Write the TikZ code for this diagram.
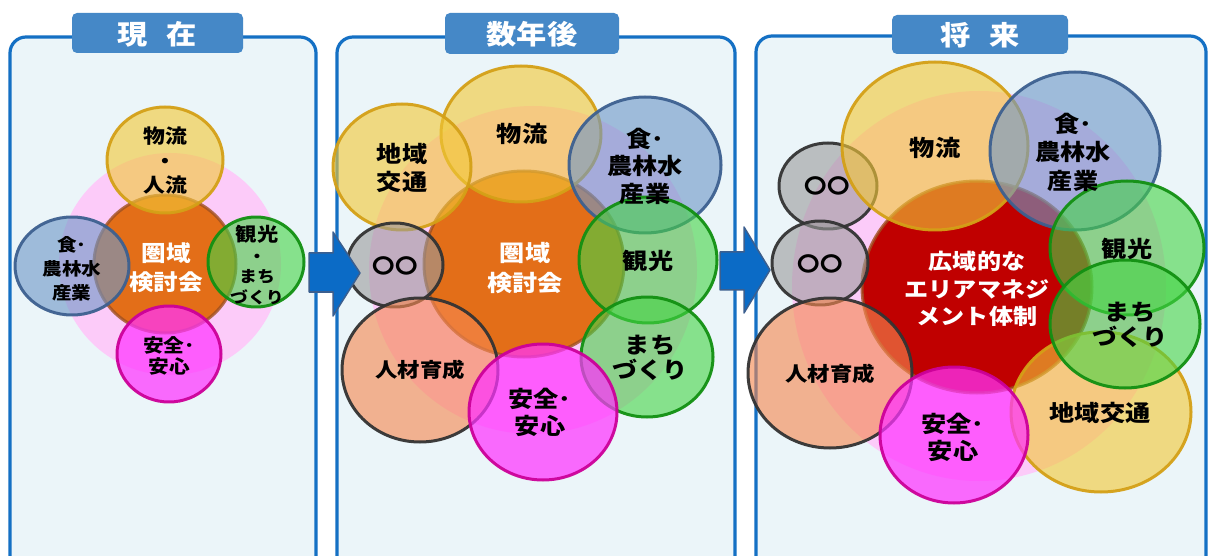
\documentclass[tikz,border=0pt]{standalone}
\usepackage{fontspec}
\newfontfamily\jp{Noto Sans CJK JP}[FakeStretch=1.12]
\definecolor{panelblue}{HTML}{1470C4}
\definecolor{panelfill}{HTML}{EBF5F9}
\definecolor{headblue}{HTML}{4588C7}
\definecolor{arrowfill}{HTML}{0B6BC6}
\definecolor{arrowline}{HTML}{3B5F8F}
\definecolor{cyel}{HTML}{F2C838}
\definecolor{byel}{HTML}{D4A017}
\definecolor{cblue}{HTML}{7098C8}
\definecolor{bblue}{HTML}{3D6090}
\definecolor{cgreen}{HTML}{44D444}
\definecolor{bgreen}{HTML}{129012}
\definecolor{cmag}{HTML}{FF33FF}
\definecolor{bmag}{HTML}{CC0099}
\definecolor{csal}{HTML}{F58850}
\definecolor{cgray}{HTML}{9A9A9A}
\definecolor{bdark}{HTML}{333333}
\definecolor{corange}{HTML}{E26A0C}
\definecolor{bbrown}{HTML}{A05020}
\definecolor{cred}{HTML}{C00000}
\definecolor{cpink}{HTML}{FFC4FA}
\begin{document}
\begin{tikzpicture}[x=1pt,y=-1pt,line join=round,
  panel/.style={draw=panelblue,line width=3.2pt,fill=panelfill,rounded corners=16pt},
  header/.style={fill=headblue,rounded corners=5pt},
  headtext/.style={text=white,font=\jp\bfseries\fontsize{27}{30}\selectfont},
  arrowst/.style={fill=arrowfill,draw=arrowline,line width=1.5pt},
  pinkbg/.style={fill=cpink,fill opacity=0.85},
  orangec/.style={fill=corange,fill opacity=0.95,draw=bbrown,draw opacity=0.8,line width=3pt},
  redc/.style={fill=cred,draw=bbrown,draw opacity=0.8,line width=3pt},
  yelc/.style={fill=cyel,fill opacity=0.62,draw=byel,draw opacity=0.95,line width=3pt},
  bluec/.style={fill=cblue,fill opacity=0.62,draw=bblue,draw opacity=0.95,line width=3pt},
  greenc/.style={fill=cgreen,fill opacity=0.6,draw=bgreen,draw opacity=0.95,line width=3pt},
  magc/.style={fill=cmag,fill opacity=0.72,draw=bmag,draw opacity=0.95,line width=3pt},
  salc/.style={fill=csal,fill opacity=0.62,draw=bdark,draw opacity=0.95,line width=3pt},
  grayc/.style={fill=cgray,fill opacity=0.6,draw=bdark,draw opacity=0.95,line width=3pt},
  lbl/.style={align=center,text=black,inner sep=0pt},
  wlbl/.style={align=center,text=white,inner sep=0pt}
]
\useasboundingbox (0,0) rectangle (1208,556);
\fill[white] (0,0) rectangle (1208,556);
\clip (0,0) rectangle (1208,556);

% panels
\draw[panel] (10,37) rectangle (316,620);
\draw[panel] (337,37) rectangle (735,620);
\draw[panel] (756,36) rectangle (1206,620);

% headers
\fill[header] (72,13) rectangle (243,53);
\fill[header] (445,13) rectangle (619,54);
\fill[header] (892,15) rectangle (1068,54);
\node[headtext] (h1) at (157,34) {現\hspace{0.7em}在};
\node[headtext] (h2) at (532,34) {数年後};
\node[headtext] (h3) at (980,35) {将\hspace{0.7em}来};

% ---------- panel 1 ----------
\fill[pinkbg] (170,264) circle [radius=111pt];
\draw[orangec] (165,264) ellipse [x radius=71pt, y radius=69pt];
\draw[yelc] (165,160) ellipse [x radius=58pt, y radius=53pt];
\draw[bluec] (72,266) ellipse [x radius=57pt, y radius=49pt];
\draw[greenc] (256,262) ellipse [x radius=48pt, y radius=45pt];
\draw[magc] (169,354) ellipse [x radius=52pt, y radius=48pt];

% ---------- panel 2 ----------
\fill[pinkbg] (533,270) circle [radius=164pt];
\draw[orangec] (524,264) ellipse [x radius=100pt, y radius=93pt];
\draw[yelc] (521,134) ellipse [x radius=80pt, y radius=68pt];
\draw[yelc] (402,167) ellipse [x radius=69pt, y radius=63pt];
\draw[grayc] (395,265) ellipse [x radius=48pt, y radius=42pt];
\draw[salc] (420,370) ellipse [x radius=78pt, y radius=72pt];
\draw[bluec] (645,165) ellipse [x radius=76pt, y radius=68pt];
\draw[greenc] (648,260) ellipse [x radius=69pt, y radius=63pt];
\draw[greenc] (647,357) ellipse [x radius=66pt, y radius=60pt];
\draw[magc] (543,412) ellipse [x radius=74pt, y radius=68pt];

% ---------- panel 3 ----------
\fill[pinkbg] (979,286) ellipse [x radius=187pt, y radius=195pt];
\draw[redc] (977,287) ellipse [x radius=115pt, y radius=106pt];
\draw[grayc] (828,186) ellipse [x radius=49pt, y radius=43pt];
\draw[grayc] (820,263) ellipse [x radius=48pt, y radius=42pt];
\draw[salc] (830,373) ellipse [x radius=82pt, y radius=75pt];
\draw[yelc] (935,146) ellipse [x radius=93pt, y radius=84pt];
\draw[bluec] (1075,151) ellipse [x radius=85pt, y radius=79pt];
\draw[yelc] (1101,412) ellipse [x radius=90pt, y radius=80pt];
\draw[greenc] (1127,248) ellipse [x radius=77pt, y radius=67pt];
\draw[greenc] (1125,324) ellipse [x radius=75pt, y radius=64pt];
\draw[magc] (954,435) ellipse [x radius=74pt, y radius=68pt];

% arrows
\draw[arrowst] (309,253) -- (333,253) -- (333,232) -- (360,273) -- (333,316) -- (333,292) -- (309,292) -- cycle;
\draw[arrowst] (720,252) -- (744,252) -- (744,227) -- (770,270) -- (744,313) -- (744,290) -- (720,290) -- cycle;

% ---------- labels panel 1 ----------
\node[lbl,font=\jp\bfseries\fontsize{19.5}{24.5}\selectfont] (a1) at (165,161) {物流\\・\\人流};
\node[lbl,font=\jp\bfseries\fontsize{17.5}{24}\selectfont] (a2) at (72,269) {食･\\農林水\\産業};
\node[wlbl,font=\jp\bfseries\fontsize{22}{29}\selectfont] (a3) at (166,268) {圏域\\検討会};
\node[lbl,font=\jp\bfseries\fontsize{16}{20.5}\selectfont] (a4) at (257,265) {{\fontsize{19}{20.5}\selectfont 観光}\\・\\まち\\づくり};
\node[lbl,font=\jp\bfseries\fontsize{18.5}{21}\selectfont] (a5) at (169,356) {安全･\\安心};

% ---------- labels panel 2 ----------
\node[lbl,font=\jp\bfseries\fontsize{22.5}{28}\selectfont] (b1) at (522,134) {物流};
\node[lbl,font=\jp\bfseries\fontsize{22.5}{28}\selectfont] (b2) at (402,168) {地域\\交通};
\node[lbl,font=\jp\bfseries\fontsize{22.5}{27.5}\selectfont] (b3) at (645,166) {食･\\農林水\\産業};
\node[lbl,font=\jp\bfseries\fontsize{22.5}{28}\selectfont] (b4) at (648,261) {観光};
\node[lbl,font=\jp\bfseries\fontsize{22.5}{25.5}\selectfont] (b5) at (650,358) {まち\\づくり};
\node[lbl,font=\jp\bfseries\fontsize{22.5}{27}\selectfont] (b6) at (540,412) {安全･\\安心};
\node[lbl,font=\jp\bfseries\fontsize{20}{25}\selectfont] (b7) at (420,370) {人材育成};
\node[lbl,font=\jp\bfseries\fontsize{20}{25}\selectfont] (b8) at (395,266) {〇〇};
\node[wlbl,font=\jp\bfseries\fontsize{22.5}{30}\selectfont] (b9) at (525,268) {圏域\\検討会};

% ---------- labels panel 3 ----------
\node[lbl,font=\jp\bfseries\fontsize{22.5}{28}\selectfont] (c1) at (935,148) {物流};
\node[lbl,font=\jp\bfseries\fontsize{22.5}{28.5}\selectfont] (c2) at (1073,152) {食･\\農林水\\産業};
\node[lbl,font=\jp\bfseries\fontsize{20}{25}\selectfont] (c3) at (827,186) {〇〇};
\node[lbl,font=\jp\bfseries\fontsize{20}{25}\selectfont] (c4) at (820,264) {〇〇};
\node[wlbl,font=\jp\bfseries\fontsize{21.5}{27.5}\selectfont] (c5) at (977,289) {広域的な\\エリアマネジ\\メント体制};
\node[lbl,font=\jp\bfseries\fontsize{22.5}{28}\selectfont] (c6) at (1127,249) {観光};
\node[lbl,font=\jp\bfseries\fontsize{22.5}{25.5}\selectfont] (c7) at (1130,325) {まち\\づくり};
\node[lbl,font=\jp\bfseries\fontsize{22.5}{28}\selectfont] (c8) at (1100,413) {地域交通};
\node[lbl,font=\jp\bfseries\fontsize{22.5}{27}\selectfont] (c9) at (953,437) {安全･\\安心};
\node[lbl,font=\jp\bfseries\fontsize{20}{25}\selectfont] (c10) at (830,374) {人材育成};
\end{tikzpicture}
\end{document}
